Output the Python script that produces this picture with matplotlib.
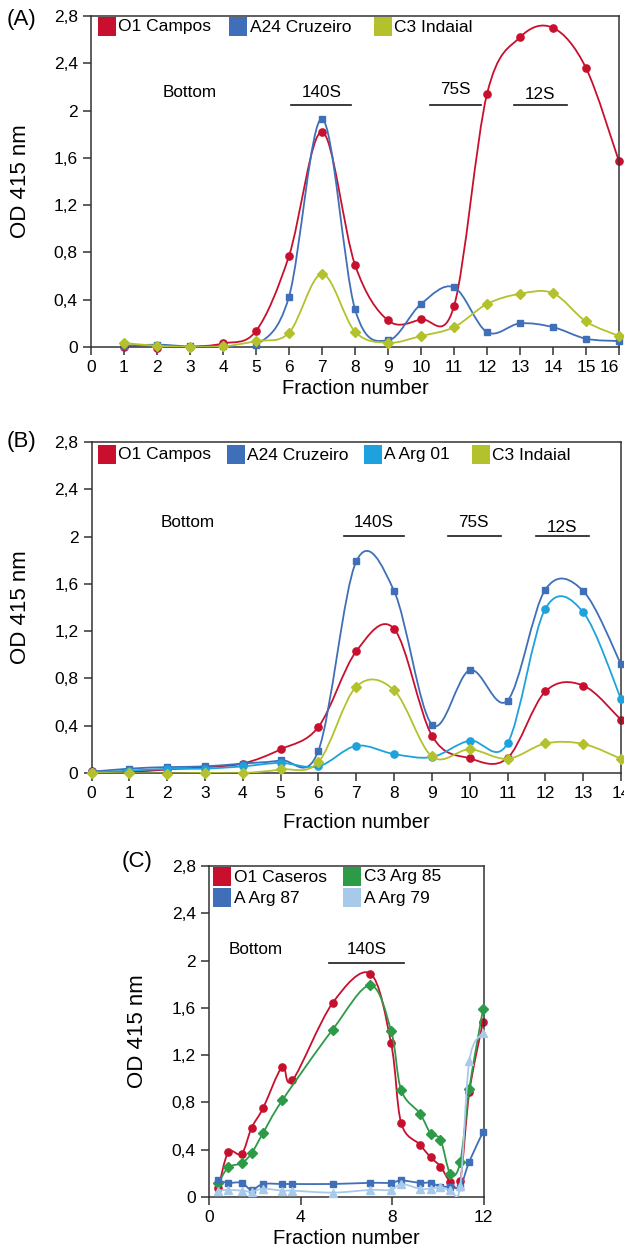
import numpy as np
import matplotlib
matplotlib.use("Agg")
import matplotlib.pyplot as plt
from matplotlib.path import Path
from matplotlib.patches import PathPatch, Rectangle

plt.rcParams['font.family'] = ['Liberation Sans', 'DejaVu Sans']

# ---------------- data ----------------
# Panel A
fractions_a = [1, 2, 3, 4, 5, 6, 7, 8, 9, 10, 11, 12, 13, 14, 15, 16]
a_o1_campos = [0.00, -0.01, 0.00, 0.03, 0.135, 0.77, 1.82, 0.695, 0.225, 0.233, 0.345, 2.14, 2.62, 2.70, 2.36, 1.57]
a_a24_cruzeiro = [0.01, 0.02, 0.005, 0.01, 0.015, 0.426, 1.93, 0.32, 0.056, 0.364, 0.505, 0.126, 0.20, 0.168, 0.07, 0.05]
a_c3_indaial = [0.034, 0.01, 0.0, 0.005, 0.05, 0.12, 0.617, 0.13, 0.036, 0.093, 0.168, 0.364, 0.45, 0.455, 0.216, 0.093]
labels_a = ["O1 Campos", "A24 Cruzeiro", "C3 Indaial"]

# Panel B
fractions_b = [0, 1, 2, 3, 4, 5, 6, 7, 8, 9, 10, 11, 12, 13, 14]
b_o1_campos = [0.014, 0.01, 0.03, 0.05, 0.08, 0.20, 0.39, 1.03, 1.22, 0.316, 0.124, 0.127, 0.69, 0.74, 0.45]
b_a24_cruzeiro = [0.01, 0.037, 0.05, 0.056, 0.08, 0.107, 0.19, 1.79, 1.54, 0.41, 0.87, 0.613, 1.552, 1.54, 0.92]
b_a_arg01 = [0.005, 0.02, 0.035, 0.037, 0.056, 0.085, 0.056, 0.23, 0.16, 0.135, 0.274, 0.25, 1.39, 1.36, 0.627]
b_c3_indaial = [0.0, -0.003, -0.005, 0.0, 0.0, 0.03, 0.093, 0.73, 0.70, 0.14, 0.20, 0.12, 0.25, 0.246, 0.12]
labels_b = ["O1 Campos", "A24 Cruzeiro", "A Arg 01", "C3 Indaial"]

# Panel C
fractions_c = [0.41, 0.84, 1.43, 1.86, 2.36, 3.2, 3.65, 5.4, 7.05, 7.96, 8.4, 9.22, 9.69, 10.12, 10.55, 10.98, 11.38, 11.98]
c_o1_caseros = [0.074, 0.377, 0.366, 0.585, 0.75, 1.10, 0.987, 1.64, 1.89, 1.30, 0.627, 0.443, 0.335, 0.258, 0.13, 0.136, 0.888, 1.483]
c_c3_arg85 = [0.116, 0.25, 0.287, 0.37, 0.54, 0.817, np.nan, 1.415, 1.79, 1.407, 0.905, 0.706, 0.536, 0.485, 0.196, 0.292, 0.917, 1.59]
c_a_arg87 = [0.14, 0.12, 0.12, 0.06, 0.11, 0.11, 0.11, 0.11, 0.12, 0.12, 0.14, 0.12, 0.12, 0.088, 0.088, 0.088, 0.30, 0.55]
c_a_arg79 = [0.054, 0.06, 0.054, 0.045, 0.07, 0.054, 0.054, 0.037, 0.06, 0.06, 0.11, 0.07, 0.07, 0.085, 0.06, 0.09, 1.15, 1.39]
labels_c = ["O1 Caseros", "C3 Arg 85", "A Arg 87", "A Arg 79"]

yticks = [0, 0.4, 0.8, 1.2, 1.6, 2.0, 2.4, 2.8]
ytick_labels = ["0", "0,4", "0,8", "1,2", "1,6", "2", "2,4", "2,8"]

# ---------------- style ----------------
RED = '#C8102E'
BLUE = '#3F6FB8'
LBLUE = '#1EA2DE'
YGREEN = '#B3C22C'
GREEN = '#2C9A47'
PBLUE = '#A8CAEA'
SPINE = '#333333'

W, H = 624, 1249
fig = plt.figure(figsize=(W / 100, H / 100), dpi=100)


def px_axes(l, t, r, b):
    return fig.add_axes([l / W, 1 - b / H, (r - l) / W, (b - t) / H])


def smooth_line(ax, x, y, color, lw=1.3, z=2):
    x = np.asarray(x, float)
    y = np.asarray(y, float)
    m = ~np.isnan(y)
    pts = np.column_stack([x[m], y[m]])
    P = np.vstack([pts[0], pts, pts[-1]])
    verts = [tuple(pts[0])]
    codes = [Path.MOVETO]
    for i in range(1, len(P) - 2):
        p0, p1, p2, p3 = P[i - 1], P[i], P[i + 1], P[i + 2]
        b1 = p1 + (p2 - p0) / 6.0
        b2 = p2 - (p3 - p1) / 6.0
        verts += [tuple(b1), tuple(b2), tuple(p2)]
        codes += [Path.CURVE4] * 3
    patch = PathPatch(Path(verts, codes), fill=False, edgecolor=color, lw=lw,
                      zorder=z, capstyle='round', joinstyle='round')
    ax.add_patch(patch)


def series(ax, x, y, color, marker, ms, z):
    smooth_line(ax, x, y, color, z=z)
    ax.plot(x, y, linestyle='none', marker=marker, ms=ms, color=color,
            mec=color, zorder=z + 0.5, clip_on=False)


def style_axes(ax, xlim, xticks, xticklabels, ylabel_x, xlabel_y):
    ax.set_xlim(*xlim)
    ax.set_ylim(0, 2.8)
    ax.set_yticks(yticks)
    ax.set_yticklabels(ytick_labels)
    ax.set_xticks(xticks)
    ax.set_xticklabels(xticklabels)
    for s in ax.spines.values():
        s.set_color(SPINE)
        s.set_linewidth(1.1)
    ax.tick_params(axis='both', direction='out', length=5.5, width=1.1,
                   color=SPINE, labelsize=12.5, pad=4)
    ax.set_ylabel("OD 415 nm", fontsize=16)
    ax.yaxis.label.set_va('center')
    ax.yaxis.set_label_coords(ylabel_x, 0.5)
    ax.set_xlabel("Fraction number", fontsize=14.5)
    ax.xaxis.label.set_va('center')
    ax.xaxis.set_label_coords(0.5, xlabel_y)


def legend_px(entries):
    # entries: (square_left_px, square_top_px, color, label)
    for (x, y, c, lab) in entries:
        fig.patches.append(Rectangle((x / W, 1 - (y + 19) / H), 18 / W, 19 / H,
                                     transform=fig.transFigure, facecolor=c,
                                     edgecolor='none', zorder=5))
        fig.text((x + 20.5) / W, 1 - (y + 10) / H, lab, fontsize=12.5,
                 ha='left', va='center', zorder=6)


def annot(ax, texts, lines):
    for (tx, ty, s) in texts:
        ax.text(tx, ty, s, fontsize=12.3, ha='center', va='center')
    for (x0, x1, ly) in lines:
        ax.plot([x0, x1], [ly, ly], color='#1a1a1a', lw=1.2, zorder=3)


# ---------------- Panel A ----------------
axA = px_axes(91, 16, 619, 347)
series(axA, fractions_a, a_o1_campos, RED, 'o', 5.2, 2)
series(axA, fractions_a, a_a24_cruzeiro, BLUE, 's', 4.8, 3)
series(axA, fractions_a, a_c3_indaial, YGREEN, 'D', 4.6, 4)
style_axes(axA, (0, 16), list(range(0, 17)), [str(i) for i in range(0, 17)],
           -0.134, -0.124)
lastA = axA.get_xticklabels()[-1]
lastA.set_ha('right')
lastA.set_x(16.08)
annot(axA, [(3.0, 2.15, "Bottom"), (6.98, 2.15, "140S"), (11.03, 2.18, "75S"),
            (13.6, 2.14, "12S")],
      [(6.05, 7.89, 2.05), (10.27, 11.83, 2.05), (12.82, 14.42, 2.05)])
legend_px([(97.5, 17, RED, labels_a[0]), (229, 17, BLUE, labels_a[1]),
           (374, 17, YGREEN, labels_a[2])])
fig.text(7 / W, 1 - 19 / H, "(A)", fontsize=16, ha='left', va='center')

# ---------------- Panel B ----------------
axB = px_axes(91.5, 442, 621, 773)
series(axB, fractions_b, b_o1_campos, RED, 'o', 5.2, 2)
series(axB, fractions_b, b_a24_cruzeiro, BLUE, 's', 4.8, 3)
series(axB, fractions_b, b_a_arg01, LBLUE, 'o', 5.2, 4)
series(axB, fractions_b, b_c3_indaial, YGREEN, 'D', 4.6, 5)
style_axes(axB, (0, 14), list(range(0, 15)), [str(i) for i in range(0, 15)],
           -0.134, -0.15)
annot(axB, [(2.55, 2.12, "Bottom"), (7.47, 2.12, "140S"), (10.1, 2.12, "75S"),
            (12.44, 2.08, "12S")],
      [(6.68, 8.26, 2.005), (9.42, 10.82, 2.005), (11.74, 13.15, 2.005)])
legend_px([(97.5, 445, RED, labels_b[0]), (226.7, 445, BLUE, labels_b[1]),
           (363.5, 445, LBLUE, labels_b[2]), (472, 445, YGREEN, labels_b[3])])
fig.text(7 / W, 1 - 441 / H, "(B)", fontsize=16, ha='left', va='center')

# ---------------- Panel C ----------------
axC = px_axes(209, 866, 483.5, 1197)
series(axC, fractions_c, c_o1_caseros, RED, 'o', 5.2, 2)
series(axC, fractions_c, c_c3_arg85, GREEN, 'D', 4.8, 3)
series(axC, fractions_c, c_a_arg87, BLUE, 's', 5.0, 4)
series(axC, fractions_c, c_a_arg79, PBLUE, '^', 5.4, 5)
style_axes(axC, (0, 12), [0, 4, 8, 12], ["0", "4", "8", "12"], -0.259, -0.124)
annot(axC, [(2.05, 2.09, "Bottom"), (6.88, 2.09, "140S")],
      [(5.25, 8.51, 1.98)])
legend_px([(213, 867, RED, labels_c[0]), (343, 867, GREEN, labels_c[1]),
           (213, 888, BLUE, labels_c[2]), (343, 888, PBLUE, labels_c[3])])
fig.text(122 / W, 1 - 862 / H, "(C)", fontsize=16, ha='left', va='center')

fig.savefig("out.png", dpi=100)
